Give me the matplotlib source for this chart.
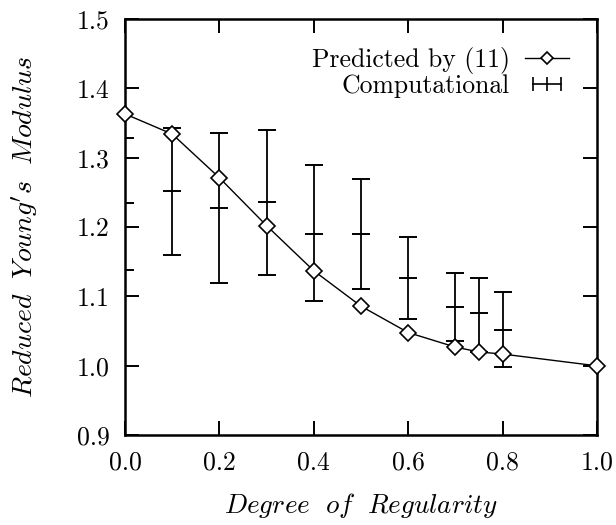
import numpy as np
import matplotlib
matplotlib.use('Agg')
import matplotlib.pyplot as plt
from matplotlib.lines import Line2D
from matplotlib.legend_handler import HandlerLine2D

plt.rcParams['font.family'] = ['cmr10', 'DejaVu Serif']
plt.rcParams['mathtext.fontset'] = 'cm'
plt.rcParams['axes.formatter.use_mathtext'] = True

# predicted by (11)
reg_pred = [0.0, 0.1, 0.2, 0.3, 0.4, 0.5, 0.6, 0.7, 0.75, 0.8, 1.0]
mod_pred = [1.363, 1.334, 1.271, 1.202, 1.137, 1.086, 1.048, 1.027, 1.020, 1.017, 1.0]

# computational (mean, low, high)
reg_comp = [0.0, 0.1, 0.2, 0.3, 0.4, 0.5, 0.6, 0.7, 0.75, 0.8]
mod_mean = [1.235, 1.252, 1.228, 1.236, 1.190, 1.190, 1.126, 1.085, 1.076, 1.052]
mod_low = [1.138, 1.160, 1.120, 1.131, 1.093, 1.111, 1.067, 1.036, 1.020, 0.999]
mod_high = [1.329, 1.343, 1.335, 1.340, 1.289, 1.269, 1.185, 1.134, 1.127, 1.107]

xticks = [0.0, 0.2, 0.4, 0.6, 0.8, 1.0]
yticks = [0.9, 1.0, 1.1, 1.2, 1.3, 1.4, 1.5]

fig = plt.figure(figsize=(6.16, 5.25), dpi=100)
ax = fig.add_axes([0.203, 0.171, 0.766, 0.793])

mean = np.array(mod_mean)
yerr = [mean - np.array(mod_low), np.array(mod_high) - mean]
ax.errorbar(reg_comp, mod_mean, yerr=yerr, fmt='_', color='black', ms=13,
            mew=1.4, elinewidth=1.3, capsize=6.5, capthick=1.4, zorder=3)

ax.plot(reg_pred, mod_pred, '-', color='black', lw=1.0, marker='D', ms=8,
        mfc='white', mec='black', mew=1.2, zorder=4, clip_on=False)

ax.set_xlim(0, 1.0)
ax.set_ylim(0.9, 1.5)
ax.set_xticks(xticks)
ax.set_yticks(yticks)
ax.set_xticklabels(['%.1f' % v for v in xticks])
ax.set_yticklabels(['%.1f' % v for v in yticks])
ax.tick_params(direction='in', length=10, width=1.4, top=True, right=True,
               labelsize=18.5, pad=11)
for s in ax.spines.values():
    s.set_linewidth(1.8)

ax.set_xlabel(r'$Degree\ \ of\ \ Regularity$', fontsize=19.5, labelpad=12)
ax.set_ylabel(r"$Reduced\ \ Young's\ \ Modulus$", fontsize=20, labelpad=26)

h1 = Line2D([], [], color='black', lw=1.0, marker='D', ms=6.5, mfc='white', mec='black', mew=1.2)
h2 = Line2D([], [], color='black', lw=1.2, marker='|', ms=10, mew=1.2)
ax.legend([h1, h2], ['Predicted by (11)', 'Computational'], loc='upper right',
          frameon=False, markerfirst=False, fontsize=18.5, handlelength=1.7,
          handletextpad=0.6, labelspacing=0.0, borderaxespad=0.7,
          handler_map={h1: HandlerLine2D(numpoints=1), h2: HandlerLine2D(numpoints=3)})
for t in ax.get_legend().get_texts():
    t.set_ha('right')

fig.savefig('out.png', dpi=100)
